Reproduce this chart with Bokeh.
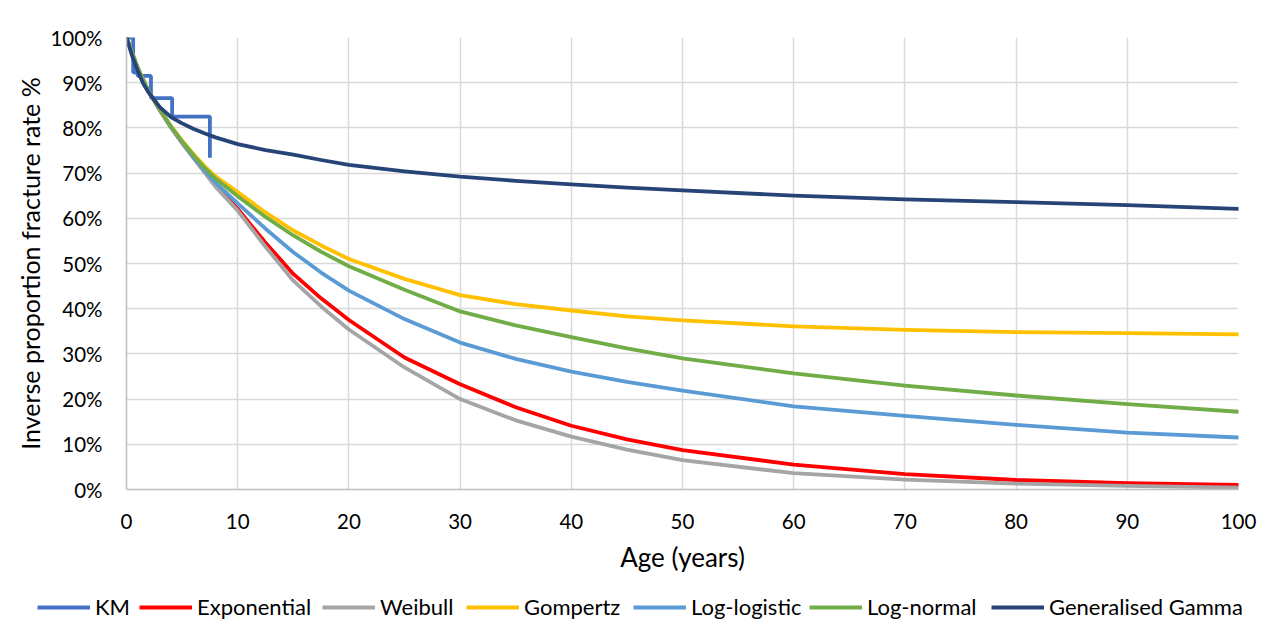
from bokeh.plotting import figure
from bokeh.layouts import column
from bokeh.models import FixedTicker, PrintfTickFormatter, Legend, LegendItem, Range1d
from bokeh.embed import file_html
from bokeh.resources import INLINE

# ---------------- data ----------------
km_age = [0, 0.6, 1.0, 2.2, 4.1, 7.5]
km_surv = [100, 92.3, 91.5, 86.6, 82.5, 73.4]

ages = [0, 1, 2, 3, 4, 5, 6, 7, 8, 10, 12.5, 15, 17.5, 20, 25, 30, 35, 40, 45, 50, 60, 70, 80, 90, 100]
exponential = [100, 93.3, 88.0, 83.9, 80.1, 76.7, 73.5, 70.4, 67.3, 62.1, 54.6, 47.7, 42.3, 37.5, 29.2, 23.3, 18.2, 14.1, 11.1, 8.7, 5.5, 3.4, 2.1, 1.4, 1.0]
weibull = [100, 93.3, 88.0, 84.0, 80.1, 76.7, 73.4, 70.2, 67.0, 61.7, 53.7, 46.2, 40.5, 35.4, 27.0, 20.0, 15.3, 11.7, 8.8, 6.5, 3.6, 2.2, 1.3, 0.8, 0.4]
gompertz = [100, 93.3, 88.0, 84.0, 80.4, 77.2, 74.3, 71.6, 69.3, 65.8, 61.3, 57.3, 54.0, 51.0, 46.6, 43.0, 41.0, 39.6, 38.3, 37.4, 36.1, 35.3, 34.8, 34.6, 34.3]
log_logistic = [100, 93.3, 88.0, 84.0, 80.2, 76.8, 73.6, 70.6, 67.9, 63.3, 57.7, 52.5, 48.0, 44.0, 37.7, 32.5, 28.9, 26.1, 23.8, 21.9, 18.4, 16.3, 14.3, 12.6, 11.5]
log_normal = [100, 93.3, 88.0, 84.0, 80.3, 77.0, 74.0, 71.2, 68.8, 64.9, 60.3, 56.2, 52.6, 49.4, 44.2, 39.4, 36.3, 33.7, 31.2, 29.0, 25.7, 23.0, 20.8, 18.9, 17.2]

gg_age = [0, 0.5, 1, 1.5, 2, 3, 4, 5, 6, 7, 8, 10, 12.5, 15, 17.5, 20, 25, 30, 35, 40, 45, 50, 60, 70, 80, 90, 100]
gen_gamma = [100, 96.0, 92.7, 89.8, 87.8, 84.6, 82.4, 81.0, 79.8, 78.8, 77.9, 76.4, 75.1, 74.1, 72.9, 71.8, 70.4, 69.2, 68.3, 67.5, 66.8, 66.2, 65.0, 64.2, 63.6, 62.9, 62.1]

x_ticks = [0, 10, 20, 30, 40, 50, 60, 70, 80, 90, 100]
y_ticks = [0, 10, 20, 30, 40, 50, 60, 70, 80, 90, 100]

series_names = ["KM", "Exponential", "Weibull", "Gompertz", "Log-logistic", "Log-normal", "Generalised Gamma"]
series_colors = ["#4472C4", "#FF0000", "#A5A5A5", "#FFC000", "#5B9BD5", "#70AD47", "#264478"]

# ---------------- main figure ----------------
FONT = "Lato"
LW = 3.8

p = figure(width=1262, height=582, output_backend="svg", toolbar_location=None,
           x_range=Range1d(0, 100), y_range=Range1d(0, 100),
           min_border_left=126, min_border_right=24, min_border_top=37, min_border_bottom=93)
p.frame_align = False
p.outline_line_color = None
p.background_fill_color = "white"
p.border_fill_color = "white"

for g, t in ((p.xgrid, x_ticks), (p.ygrid, y_ticks)):
    g.ticker = FixedTicker(ticks=t)
    g.grid_line_color = "#D9D9D9"
    g.grid_line_width = 1.5

p.xaxis.ticker = FixedTicker(ticks=x_ticks)
p.yaxis.ticker = FixedTicker(ticks=y_ticks)
p.yaxis.formatter = PrintfTickFormatter(format="%d%%")

for ax in (p.xaxis, p.yaxis):
    ax.axis_line_color = "#BFBFBF"
    ax.axis_line_width = 1.5
    ax.major_tick_line_color = None
    ax.minor_tick_line_color = None
    ax.major_tick_out = 0
    ax.major_tick_in = 0
    ax.minor_tick_out = 0
    ax.minor_tick_in = 0
    ax.major_label_text_font = FONT
    ax.major_label_text_font_size = "20.5px"
    ax.major_label_text_color = "black"
    ax.axis_label_text_font = FONT
    ax.axis_label_text_font_style = "normal"
    ax.axis_label_text_color = "black"

p.xaxis.axis_label = "Age (years)"
p.yaxis.axis_label = "Inverse proportion fracture rate %"
p.xaxis.axis_label_text_font_size = "26px"
p.yaxis.axis_label_text_font_size = "25px"
p.xaxis.major_label_standoff = 24
p.xaxis.axis_label_standoff = 9
p.yaxis.major_label_standoff = 24
p.yaxis.axis_label_standoff = 2

kw = dict(line_width=LW, line_cap="round", line_join="round")
p.step(km_age, km_surv, mode="after", line_color=series_colors[0], line_width=LW)
p.line(ages, exponential, line_color=series_colors[1], **kw)
p.line(ages, weibull, line_color=series_colors[2], **kw)
p.line(ages, gompertz, line_color=series_colors[3], **kw)
p.line(ages, log_logistic, line_color=series_colors[4], **kw)
p.line(ages, log_normal, line_color=series_colors[5], **kw)
p.line(gg_age, gen_gamma, line_color=series_colors[6], **kw)

# ---------------- legend strip ----------------
lg = figure(width=1262, height=50, output_backend="svg", toolbar_location=None,
            x_axis_type=None, y_axis_type=None, x_range=Range1d(0, 1), y_range=Range1d(0, 1),
            min_border_left=0, min_border_right=0, min_border_top=0, min_border_bottom=0)
lg.frame_align = False
lg.outline_line_color = None
lg.background_fill_color = "white"
lg.border_fill_color = "white"

legend_x = [37, 139, 322, 466, 633, 809, 991]   # left edge of each legend entry (px)
for name, col, lx in zip(series_names, series_colors, legend_x):
    r = lg.line(x=[0, 1], y=[0, 1], line_color=col, line_width=LW, visible=False)
    leg = Legend(items=[LegendItem(label=name, renderers=[r])], location=(lx, 12),
                 glyph_width=53, glyph_height=20, label_standoff=5,
                 padding=0, margin=0, border_line_color=None, background_fill_alpha=0,
                 inactive_fill_alpha=0, click_policy="none",
                 label_text_font=FONT, label_text_font_size="22px", label_text_color="black")
    lg.add_layout(leg, "center")

layout = column(p, lg, spacing=0)
open("out.html", "w").write(file_html(layout, INLINE))
